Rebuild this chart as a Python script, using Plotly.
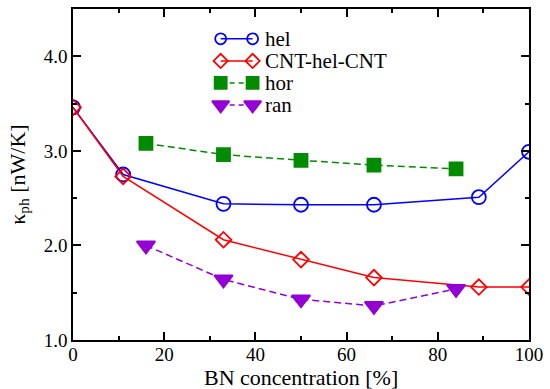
import plotly.graph_objects as go

# Data
x_hel = [0, 11, 33, 50, 66, 89, 100]
y_hel = [3.46, 2.75, 2.44, 2.43, 2.43, 2.51, 2.99]
x_cnt = [0, 11, 33, 50, 66, 89, 100]
y_cnt = [3.46, 2.73, 2.06, 1.85, 1.66, 1.56, 1.56]
x_hor = [16, 33, 50, 66, 84]
y_hor = [3.08, 2.96, 2.90, 2.85, 2.81]
x_ran = [16, 33, 50, 66, 84]
y_ran = [2.00, 1.64, 1.43, 1.36, 1.54]

series_names = ["hel", "CNT-hel-CNT", "hor", "ran"]

x_ticks = [0, 20, 40, 60, 80, 100]
y_ticks = [1.0, 2.0, 3.0, 4.0]
y_tick_labels = ["1.0", "2.0", "3.0", "4.0"]
x_title = "BN concentration [%]"
y_title = "κ<sub>ph</sub> [nW/K]"

BLUE = "rgb(0,0,255)"
RED = "rgb(255,0,0)"
GREEN = "rgb(0,139,0)"
VIOLET = "rgb(148,0,211)"
DASH = "7px,4px"

styles = [
    dict(color=BLUE, dash="solid", symbol="circle-open", size=14, lsize=11),
    dict(color=RED, dash="solid", symbol="diamond-open", size=12, lsize=11),
    dict(color=GREEN, dash=DASH, symbol="square", size=13, lsize=12),
    dict(color=VIOLET, dash=DASH, symbol="triangle-down", size=16, lsize=15),
]
xs = [x_hel, x_cnt, x_hor, x_ran]
ys = [y_hel, y_cnt, y_hor, y_ran]

fig = go.Figure()
for name, x, y, st in zip(series_names, xs, ys, styles):
    fig.add_trace(go.Scatter(
        x=x, y=y, name=name, mode="lines+markers", showlegend=False,
        line=dict(color=st["color"], width=1.5, dash=st["dash"]),
        marker=dict(symbol=st["symbol"], size=st["size"], color=st["color"],
                    line=dict(width=1.8, color=st["color"])),
    ))

# Grace-style legend drawn on an overlay axis measured in pixels of the plot area
FONT = "'Liberation Serif', 'Times New Roman', 'DejaVu Serif', serif"
LEG_X0, LEG_X1, LEG_TEXT_X = 221, 253, 263
LEG_Y0, LEG_DY = 37, 22.2
for i, (name, st) in enumerate(zip(series_names, styles)):
    yy = LEG_Y0 + i * LEG_DY
    fig.add_trace(go.Scatter(
        x=[LEG_X0, LEG_X1], y=[yy, yy], mode="lines+markers", showlegend=False,
        xaxis="x2", yaxis="y2", hoverinfo="skip",
        line=dict(color=st["color"], width=1.5, dash=("solid" if st["dash"] == "solid" else "5px,4px")),
        marker=dict(symbol=st["symbol"], size=st["lsize"], color=st["color"],
                    line=dict(width=1.8, color=st["color"])),
    ))
    fig.add_annotation(
        x=LEG_TEXT_X, y=yy, xref="x2", yref="y2", text=name, showarrow=False,
        xanchor="left", yanchor="middle",
        font=dict(family=FONT, size=21, color="black"),
    )

# Axis titles
fig.add_annotation(
    x=0.5, y=-0.112, xref="paper", yref="paper", text=x_title, showarrow=False,
    xanchor="center", yanchor="middle", font=dict(family=FONT, size=22, color="black"),
)
fig.add_annotation(
    x=-0.12, y=0.5, xref="paper", yref="paper", text=y_title, showarrow=False,
    textangle=-90, xanchor="center", yanchor="middle",
    font=dict(family=FONT, size=22, color="black"),
)

axis_common = dict(
    showline=True, linecolor="black", linewidth=1.5, mirror="allticks",
    ticks="inside", ticklen=8, tickwidth=1.5, tickcolor="black",
    showgrid=False, zeroline=False,
    tickfont=dict(family=FONT, size=19, color="black"),
)
fig.update_layout(
    xaxis=dict(
        range=[0, 100], tickvals=x_ticks, ticklabelstandoff=-4,
        minor=dict(dtick=10, ticks="inside", ticklen=4, tickwidth=1.5, tickcolor="black", showgrid=False),
        **axis_common,
    ),
    yaxis=dict(
        range=[1.0, 4.5], tickvals=y_ticks, ticktext=y_tick_labels,
        minor=dict(dtick=0.5, ticks="inside", ticklen=4, tickwidth=1.5, tickcolor="black", showgrid=False),
        **axis_common,
    ),
    xaxis2=dict(range=[73, 530], overlaying="x", visible=False, fixedrange=True),
    yaxis2=dict(range=[340, 7], overlaying="y", visible=False, fixedrange=True),
    width=550, height=389,
    margin=dict(l=73, r=20, t=7, b=49),
    paper_bgcolor="white", plot_bgcolor="white",
    font=dict(family=FONT, size=18, color="black"),
    showlegend=False,
)
fig.write_html("out.html", config={"displayModeBar": False},
               post_script="document.body.style.margin='0';")
